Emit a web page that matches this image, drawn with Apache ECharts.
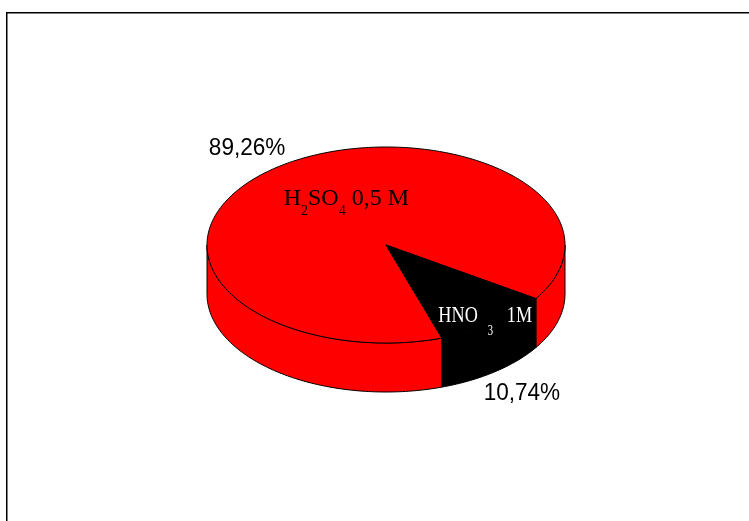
<!DOCTYPE html>
<html>
<head>
<meta charset="utf-8">
<script src="https://cdn.jsdelivr.net/npm/echarts@6/dist/echarts.min.js"></script>
<style>
  html, body { margin: 0; padding: 0; background: #ffffff; }
  #chart { width: 749px; height: 521px; }
</style>
</head>
<body>
<div id="chart"></div>
<script>
// Solutions and their share of the total (%)
const categories = ['H2SO4 0,5 M', 'HNO3 1M'];
const shares = [89.26, 10.74];

// Slice fills and the colour of the name written on each slice
const sliceColors = ['#ff0000', '#000000'];
const nameColors = ['#000000', '#ffffff'];

// Geometry of the tilted disc: centre, radii of the top ellipse, wall height,
// angle (degrees, clockwise from 3 o'clock) where the first slice begins
const disc = { cx: 386, cy: 245, rx: 179, ry: 98, depth: 49, startDeg: 71.8 };
// Where the names sit: fraction of the radius and a turn away from the slice middle
const nameRadius = [0.52, 0.91];
const nameTurn = [12.3, 0];
// Name typography: subscript drop below the baseline, horizontal squeeze, subscript side padding
const nameSubDrop = [9.3, 12];
const nameScaleX = [1, 0.76];
const nameSubPad = [[0, 0, 0, 0], [0, 12, 0, 13]];
const valueRadius = 1.26;

const total = shares.reduce((a, b) => a + b, 0);
const sliceStart = [];
let acc = disc.startDeg;
shares.forEach(v => { sliceStart.push(acc); acc += v / total * 360; });

function rimPoint(deg, radius, drop) {
  const r = deg * Math.PI / 180;
  return [disc.cx + radius * disc.rx * Math.cos(r),
          disc.cy + radius * disc.ry * Math.sin(r) + (drop || 0)];
}
function arc(a0, a1, drop) {
  const n = Math.max(2, Math.ceil(Math.abs(a1 - a0)));
  const pts = [];
  for (let k = 0; k <= n; k++) pts.push(rimPoint(a0 + (a1 - a0) * k / n, 1, drop));
  return pts;
}
// Parts of a slice's outer wall that face the viewer (angles 0..180 on each turn)
function frontParts(a0, a1) {
  const out = [];
  for (let k = -1; k <= 2; k++) {
    const lo = Math.max(a0, 360 * k), hi = Math.min(a1, 360 * k + 180);
    if (hi > lo) out.push([lo, hi]);
  }
  return out;
}
// Chemical formula -> rich text with subscript digits
function formula(s) {
  let out = '', buf = '';
  for (let i = 0; i < s.length; i++) {
    const c = s[i];
    if (/\d/.test(c) && i > 0 && /[A-Za-z]/.test(s[i - 1])) {
      out += '{m|' + buf + '}{s|' + c + '}';
      buf = '';
    } else buf += c;
  }
  if (buf) out += '{m|' + buf + '}';
  return out;
}

const chart = echarts.init(document.getElementById('chart'), null, { renderer: 'canvas' });

chart.setOption({
  animation: false,
  backgroundColor: '#ffffff',
  graphic: [{
    type: 'rect',
    shape: { x: 6.75, y: 12.75, width: 900, height: 700 },
    style: { fill: 'none', stroke: '#000000', lineWidth: 1.5 },
    silent: true
  }],
  series: [{
    type: 'custom',
    coordinateSystem: 'none',
    data: shares.map((v, i) => ({ name: categories[i], value: v })),
    renderItem: function (params, api) {
      const i = params.dataIndex;
      const v = api.value(0);
      const a0 = sliceStart[i];
      const a1 = a0 + v / total * 360;
      const mid = (a0 + a1) / 2;
      const children = [];

      frontParts(a0, a1).forEach(([lo, hi]) => {
        children.push({
          type: 'polygon', z2: 1,
          shape: { points: arc(lo, hi, 0).concat(arc(hi, lo, disc.depth)) },
          style: { fill: sliceColors[i], stroke: '#000000', lineWidth: 1, lineJoin: 'round' }
        });
      });

      children.push({
        type: 'polygon', z2: 2,
        shape: { points: [[disc.cx, disc.cy]].concat(arc(a0, a1, 0)) },
        style: { fill: sliceColors[i], stroke: '#000000', lineWidth: 1, lineJoin: 'round' }
      });

      // slice name: main letters centred in the line, subscripts sitting on its bottom
      const np = rimPoint(mid + nameTurn[i], nameRadius[i], 0);
      const lh = 2 * (nameSubDrop[i] + 10.4);
      children.push({
        type: 'text', z2: 3, x: np[0], y: np[1],
        scaleX: nameScaleX[i],
        style: {
          text: formula(categories[i]),
          align: 'center', verticalAlign: 'middle',
          rich: {
            m: { fontFamily: 'Liberation Serif', fontSize: 24, lineHeight: lh, verticalAlign: 'middle', fill: nameColors[i] },
            s: { fontFamily: 'Liberation Serif', fontSize: 14, lineHeight: lh, verticalAlign: 'bottom', padding: nameSubPad[i], fill: nameColors[i] }
          }
        }
      });

      // percentage outside the disc, below the wall on the front half
      const front = Math.sin(mid * Math.PI / 180) > 0;
      const vp = rimPoint(mid, valueRadius, front ? disc.depth : 0);
      children.push({
        type: 'text', z2: 3, x: vp[0] - 1.5, y: vp[1] + 1.5,
        scaleX: 0.94,
        style: {
          text: v.toFixed(2).replace('.', ',') + '%',
          align: 'center', verticalAlign: 'middle',
          fontFamily: 'Liberation Sans', fontSize: 24, fill: '#000000'
        }
      });

      return { type: 'group', children: children };
    }
  }]
});
</script>
</body>
</html>
